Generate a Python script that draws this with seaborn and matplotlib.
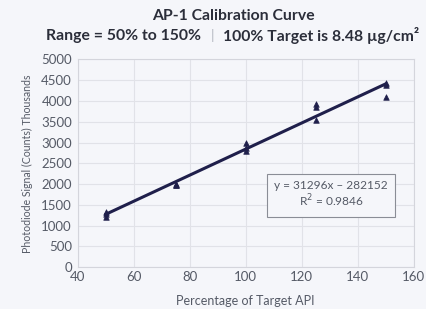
import matplotlib
matplotlib.use("Agg")
import matplotlib.pyplot as plt
import seaborn as sns
import pandas as pd

# percentage of target API and photodiode signal (thousands of counts)
pct_levels = [50, 50, 50, 75, 75, 75, 100, 100, 100, 125, 125, 125, 150, 150, 150]
signal_k = [1320, 1270, 1210, 2010, 1975, 1985, 2980, 2870, 2790,
            3920, 3850, 3530, 4420, 4380, 4100]

x_ticks = [40, 60, 80, 100, 120, 140, 160]
y_ticks = [0, 500, 1000, 1500, 2000, 2500, 3000, 3500, 4000, 4500, 5000]

equation_text = "y = 31296x \u2013 282152\nR$^2$ = 0.9846"

df = pd.DataFrame({"pct": pct_levels, "signal": signal_k})

bg = "#f5f6fa"
navy = "#1f1f4b"
grey_text = "#555a66"
title_col = "#2b2e3a"

sns.set_style("whitegrid")
plt.rcParams["font.family"] = ["Lato", "DejaVu Sans"]

fig = plt.figure(figsize=(4.26, 3.09), dpi=100, facecolor=bg)
ax = fig.add_axes([0.182, 0.135, 0.789, 0.673], facecolor=bg)

sns.regplot(data=df, x="pct", y="signal", ci=None, scatter=False, ax=ax,
            line_kws={"color": navy, "linewidth": 2.2})
sns.scatterplot(data=df, x="pct", y="signal", marker="^", color=navy,
                s=16, edgecolor=navy, linewidth=0.5, ax=ax, zorder=3)

ax.set_xlim(40, 160)
ax.set_ylim(0, 5000)
ax.set_xticks(x_ticks)
ax.set_yticks(y_ticks)
ax.grid(True, color="#e1e2e8", linewidth=0.8)
for side in ["left", "right", "top", "bottom"]:
    ax.spines[side].set_color("#d4d5dc")
    ax.spines[side].set_linewidth(0.8)
ax.tick_params(axis="both", length=0, labelsize=9.5, labelcolor=grey_text)
ax.tick_params(axis="x", pad=3)
ax.tick_params(axis="y", pad=4)

ax.set_xlabel("Percentage of Target API", fontsize=9, color=grey_text, labelpad=8)
ax.set_ylabel("Photodiode Signal (Counts) Thousands", fontsize=7.6, color=grey_text, labelpad=6)

ax.text(0.754, 0.348, equation_text, transform=ax.transAxes, ha="center", va="center",
        fontsize=8.6, color=grey_text, linespacing=1.1,
        bbox=dict(boxstyle="square,pad=0.6", facecolor=bg, edgecolor="#8a8d96", linewidth=0.8))

fig.text(0.549, 0.948, "AP-1 Calibration Curve", ha="center", va="center",
         fontsize=11.3, fontweight="bold", color=title_col)
fig.text(0.473, 0.884, "Range = 50% to 150%", ha="right", va="center",
         fontsize=11.3, fontweight="bold", color=title_col)
fig.text(0.498, 0.884, "|", ha="center", va="center",
         fontsize=10, color="#b5b8c2")
fig.text(0.523, 0.884, "100% Target is 8.48 \u00b5g/cm\u00b2", ha="left", va="center",
         fontsize=11.3, fontweight="bold", color=title_col)

fig.savefig("out.png", dpi=100, facecolor=bg)
